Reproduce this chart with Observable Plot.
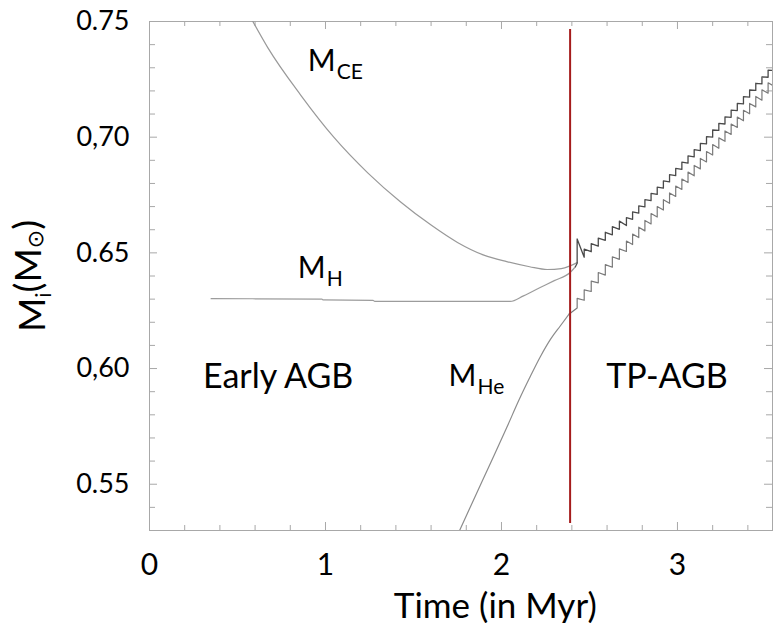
<!DOCTYPE html>
<html><head><meta charset="utf-8">
<script src="https://cdn.jsdelivr.net/npm/d3@7"></script>
<script src="https://cdn.jsdelivr.net/npm/@observablehq/plot@0.6"></script>
<style>
html,body{margin:0;padding:0;background:#fff;}
</style></head><body><div id="chart"></div>
<script>
// ---- data ----
// M_CE : base of the convective envelope (early AGB)
const ceTime = [0.58, 0.672, 0.859, 1.047, 1.24, 1.427, 1.60, 1.75, 1.90, 2.03, 2.16, 2.26, 2.34, 2.39, 2.43];
const ceMass = [0.7510, 0.7387, 0.7182, 0.7000, 0.6846, 0.6720, 0.6620, 0.6545, 0.6490, 0.6462, 0.6440, 0.6428, 0.6432, 0.6444, 0.6458];
// M_H : hydrogen-free core (early AGB)
const hTime = [0.35, 0.98, 0.985, 1.27, 1.28, 2.05, 2.125, 2.22, 2.30, 2.39, 2.42];
const hMass = [0.6302, 0.6300, 0.6297, 0.6295, 0.6290, 0.6290, 0.6314, 0.6350, 0.6380, 0.6415, 0.6440];
// M_He : helium-free core (early AGB)
const heTime = [1.75, 1.84, 1.94, 2.03, 2.10, 2.16, 2.22, 2.28, 2.335, 2.385];
const heMass = [0.528, 0.5430, 0.5595, 0.5745, 0.5865, 0.5960, 0.6050, 0.6128, 0.6185, 0.6236];
// thermal pulses (TP-AGB)
const tpTime  = [2.43, 2.47, 2.51, 2.55, 2.59, 2.63, 2.67, 2.71, 2.745, 2.78, 2.815, 2.85, 2.885, 2.92, 2.955, 2.99, 3.025, 3.06, 3.095, 3.13, 3.165, 3.20, 3.235, 3.27, 3.305, 3.34, 3.375, 3.41, 3.445, 3.48, 3.515, 3.55];
const hBase   = [0.6455, 0.6481, 0.6505, 0.6529, 0.6554, 0.6578, 0.6602, 0.6618, 0.6645, 0.6672, 0.6699, 0.6726, 0.6753, 0.6780, 0.6807, 0.6834, 0.6861, 0.6888, 0.6915, 0.6942, 0.6971, 0.7000, 0.7029, 0.7057, 0.7086, 0.7115, 0.7144, 0.7173, 0.7202, 0.7230, 0.7259, 0.7288];
const hPeak   = [0.6560, 0.6516, 0.6540, 0.6564, 0.6589, 0.6613, 0.6637, 0.6652, 0.6677, 0.6703, 0.6730, 0.6757, 0.6784, 0.6811, 0.6838, 0.6865, 0.6892, 0.6919, 0.6946, 0.6973, 0.7002, 0.7031, 0.7060, 0.7088, 0.7117, 0.7146, 0.7175, 0.7204, 0.7233, 0.7261, 0.7290, 0.7319];
const heBefore= [0.6262, 0.6295, 0.6333, 0.6370, 0.6404, 0.6438, 0.6472, 0.6506, 0.6536, 0.6566, 0.6595, 0.6625, 0.6655, 0.6685, 0.6714, 0.6744, 0.6774, 0.6804, 0.6833, 0.6863, 0.6893, 0.6923, 0.6952, 0.6982, 0.7012, 0.7042, 0.7071, 0.7101, 0.7131, 0.7160, 0.7190, 0.7220];
const heAfter = [0.6303, 0.6340, 0.6378, 0.6415, 0.6449, 0.6483, 0.6517, 0.6551, 0.6581, 0.6611, 0.6640, 0.6670, 0.6700, 0.6730, 0.6759, 0.6789, 0.6819, 0.6849, 0.6878, 0.6908, 0.6938, 0.6968, 0.6997, 0.7027, 0.7057, 0.7087, 0.7116, 0.7146, 0.7176, 0.7205, 0.7235, 0.7265];
// start of the TP-AGB phase
const boundaryTime = [2.39];
const boundaryFrom = [0.533];
const boundaryTo   = [0.7465];
// axes and ticks
const xDomain = [0, 3.54];
const yDomain = [0.53, 0.75];
const xMajor = [0, 1, 2, 3];
const xMinor = [0.2, 0.4, 0.6, 0.8, 1.2, 1.4, 1.6, 1.8, 2.2, 2.4, 2.6, 2.8, 3.2, 3.4];
const yMajor = [0.55, 0.60, 0.65, 0.70, 0.75];
const yMajorLabels = ["0.55", "0,60", "0.65", "0,70", "0.75"];
const yMinor = [0.54, 0.56, 0.57, 0.58, 0.59, 0.61, 0.62, 0.63, 0.64, 0.66, 0.67, 0.68, 0.69, 0.71, 0.72, 0.73, 0.74];
// annotations
const labelMain = ["M", "M", "M"];
const labelSub  = ["CE", "H", "He"];
const labelTime = [0.899, 0.842, 1.699];
const labelMass = [0.7288, 0.6392, 0.5924];
const phaseName = ["Early AGB", "TP-AGB"];
const phaseTime = [0.304, 2.595];
const phaseMass = [0.5916, 0.5916];
const xTitle = "Time (in Myr)";
const xTitleTime = 1.965;

// ---- tables built from the arrays ----
const ce = ceTime.map((t, i) => ({t, m: ceMass[i]}));
const hEarly = hTime.map((t, i) => ({t, m: hMass[i]}));
const hTP = [hEarly[hEarly.length - 1]];
tpTime.forEach((t, i) => { hTP.push({t, m: hBase[i]}); hTP.push({t, m: hPeak[i]}); });
const heEarly = heTime.map((t, i) => ({t, m: heMass[i]}));
const heTP = [heEarly[heEarly.length - 1]];
tpTime.forEach((t, i) => { heTP.push({t, m: heBefore[i]}); heTP.push({t, m: heAfter[i]}); });
const boundary = boundaryTime.map((t, i) => ({t, from: boundaryFrom[i], to: boundaryTo[i]}));
const labels = labelMain.map((main, i) => ({main, sub: labelSub[i], t: labelTime[i], m: labelMass[i]}));
const phases = phaseName.map((name, i) => ({name, t: phaseTime[i], m: phaseMass[i]}));

const W = 775, H = 623, mL = 149, mR = 3, mT = 21, mB = 93;
const innerW = W - mL - mR, innerH = H - mT - mB;
const frameColor = "#a8a8a8";
// tick lengths (pixels) expressed along each axis
const pxY = px => px * (yDomain[1] - yDomain[0]) / innerH;
const pxX = px => px * (xDomain[1] - xDomain[0]) / innerW;
const tickRulesX = (vals, len) => [
  Plot.ruleX(vals, {x: d => d, y1: yDomain[0], y2: yDomain[0] + pxY(len), stroke: frameColor}),
  Plot.ruleX(vals, {x: d => d, y1: yDomain[1], y2: yDomain[1] - pxY(len), stroke: frameColor})
];
const tickRulesY = (vals, len) => [
  Plot.ruleY(vals, {y: d => d, x1: xDomain[0], x2: xDomain[0] + pxX(len), stroke: frameColor}),
  Plot.ruleY(vals, {y: d => d, x1: xDomain[1], x2: xDomain[1] - pxX(len), stroke: frameColor})
];

const font = "Lato, 'Open Sans', sans-serif";
const chart = Plot.plot({
  width: W, height: H,
  marginLeft: mL, marginRight: mR, marginTop: mT, marginBottom: mB,
  style: {fontFamily: font, background: "white", color: "black"},
  x: {domain: xDomain},
  y: {domain: yDomain},
  marks: [
    Plot.frame({stroke: frameColor}),
    ...tickRulesX(xMinor, 5), ...tickRulesX(xMajor, 8),
    ...tickRulesY(yMinor, 6), ...tickRulesY(yMajor, 8),
    Plot.axisX({ticks: xMajor, tickSize: 0, tickPadding: 23, fontSize: 30, label: null, tickFormat: d => String(d)}),
    Plot.axisY({ticks: yMajor, tickSize: 0, tickPadding: 20, fontSize: 27, label: null,
                tickFormat: d => yMajorLabels[yMajor.indexOf(d)]}),
    // curves
    Plot.line(ce, {x: "t", y: "m", stroke: "#999", strokeWidth: 1.2, curve: "monotone-x", clip: true}),
    Plot.line(hEarly, {x: "t", y: "m", stroke: "#9c9c9c", strokeWidth: 1.2, curve: "monotone-x", clip: true}),
    Plot.line(heEarly, {x: "t", y: "m", stroke: "#8c8c8c", strokeWidth: 1.2, curve: "monotone-x", clip: true}),
    Plot.line(heTP, {x: "t", y: "m", stroke: "#7a7a7a", strokeWidth: 1.2, clip: true}),
    Plot.line(hTP, {x: "t", y: "m", stroke: "#4a4a4a", strokeWidth: 1.3, clip: true}),
    Plot.ruleX(boundary, {x: "t", y1: "from", y2: "to", stroke: "#a51c1c", strokeWidth: 2}),
    // annotations
    Plot.text(labels, {x: "t", y: "m", text: "main", fontSize: 30, textAnchor: "start", lineAnchor: "bottom", fill: "black"}),
    Plot.text(labels, {x: "t", y: "m", text: "sub", fontSize: 21, textAnchor: "start", lineAnchor: "bottom", dx: 29, dy: 8, fill: "black"}),
    Plot.text(phases, {x: "t", y: "m", text: "name", fontSize: 34, textAnchor: "start", lineAnchor: "bottom", fill: "black"}),
    Plot.text([xTitle], {x: [xTitleTime], frameAnchor: "bottom", text: d => d, fontSize: 35, lineAnchor: "bottom", dy: 87, fill: "black"})
  ]
});

// y-axis title with subscripts
const svg = d3.select(chart);
const yt = svg.append("text")
  .attr("transform", "translate(45,276) rotate(-90)")
  .attr("text-anchor", "middle")
  .attr("font-family", font)
  .attr("font-size", 37)
  .attr("fill", "black");
yt.append("tspan").text("M");
yt.append("tspan").attr("font-size", 22).attr("dy", "0.25em").text("i");
yt.append("tspan").attr("dy", "-0.25em").text("(M");
yt.append("tspan").attr("font-size", 22).attr("font-family", "'DejaVu Sans', sans-serif").attr("dy", "0.1em").text("⊙");
yt.append("tspan").attr("dy", "-0.1em").text(")");

document.getElementById("chart").appendChild(chart);
</script>
</body></html>
